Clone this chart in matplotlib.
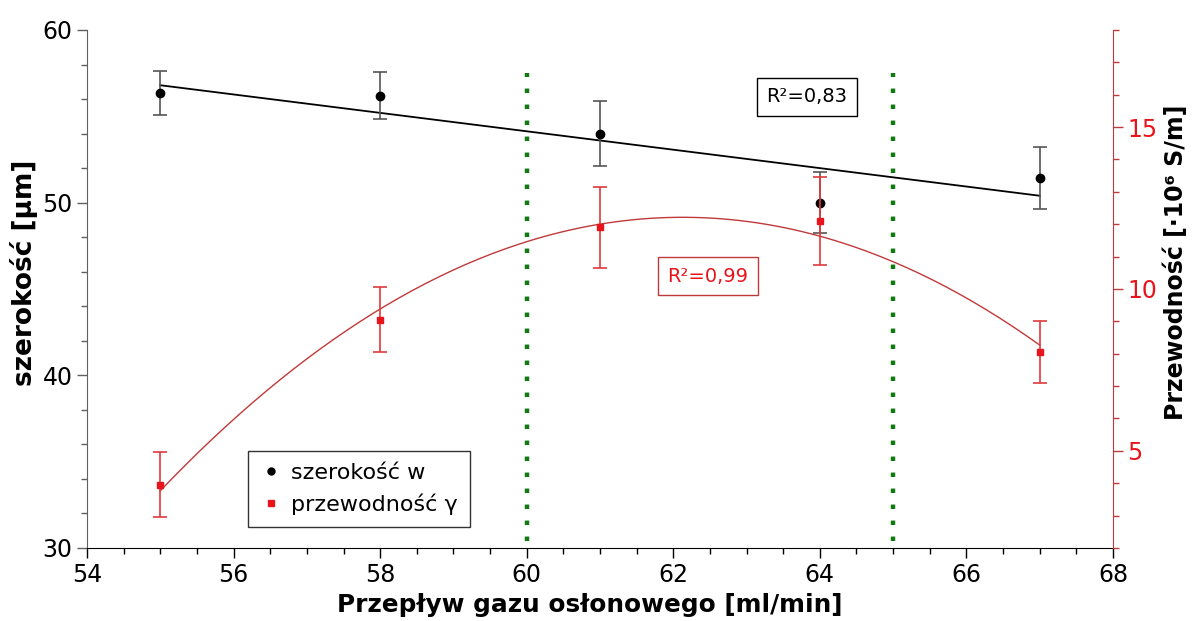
import numpy as np
import matplotlib.pyplot as plt
from matplotlib.lines import Line2D

# Measured data
flow = [55, 58, 61, 64, 67]
width = [56.35, 56.2, 54.0, 50.0, 51.45]
width_err = [1.25, 1.35, 1.9, 1.75, 1.8]
cond = [3.95, 9.05, 11.9, 12.1, 8.05]
cond_err = [1.0, 1.0, 1.25, 1.35, 0.95]
window = [60, 65]

r2_width = "R²=0,83"
r2_cond = "R²=0,99"

red = "#e8141c"
dark_red = "#c0393b"

plt.rcParams['font.family'] = ['DejaVu Sans']

fig = plt.figure(figsize=(11.92, 6.21), dpi=100)
ax = fig.add_axes([0.073, 0.1176, 0.8607, 0.8341])
ax2 = ax.twinx()

# Left axis: width
ax.errorbar(flow, width, yerr=width_err, fmt='o', color='black', ms=6,
            ecolor='#555555', elinewidth=1.2, capsize=5, capthick=1.2, zorder=5)
fit_w = np.polyfit(flow, width, 1)
xs = np.linspace(flow[0], flow[-1], 200)
ax.plot(xs, np.polyval(fit_w, xs), color='black', lw=1.3, zorder=4)

# Green vertical markers
for xv in window:
    ax.plot([xv, xv], [30.4, 57.5], color='#117a11', lw=3.2,
            linestyle=(0, (1, 2.6)), solid_capstyle='butt', zorder=3)

# Right axis: conductivity
ax2.errorbar(flow, cond, yerr=cond_err, fmt='s', color=red, ms=5,
             ecolor='#e03a3a', elinewidth=1.2, capsize=5, capthick=1.2, zorder=5)
fit_c = np.polyfit(flow, cond, 2)
ax2.plot(xs, np.polyval(fit_c, xs), color=dark_red, lw=1.0, zorder=4)

# Axis limits and ticks
ax.set_xlim(54, 68)
ax.set_ylim(30, 60)
ax2.set_ylim(2, 18)
ax.set_xticks(np.arange(54, 69, 2))
ax.set_xticks(np.arange(54, 68.1, 0.5), minor=True)
ax.set_yticks([30, 40, 50, 60])
ax.set_yticks(np.arange(30, 61, 2), minor=True)
ax2.set_yticks([5, 10, 15])
ax2.set_yticks(np.arange(2, 18.1, 1), minor=True)

ax.tick_params(axis='x', which='major', length=7, width=1, labelsize=17, color='black')
ax.tick_params(axis='x', which='minor', length=4, width=1, color='black')
ax.tick_params(axis='y', which='major', length=7, width=1, labelsize=17, color='#606060')
ax.tick_params(axis='y', which='minor', length=4, width=1, color='#606060')
ax2.tick_params(axis='y', which='major', length=7, width=1, labelsize=17,
                color=dark_red, labelcolor=red)
ax2.tick_params(axis='y', which='minor', length=4, width=1, color=dark_red)

for a in (ax, ax2):
    a.spines['top'].set_visible(False)
ax.spines['right'].set_visible(False)
ax2.spines['left'].set_visible(False)
ax2.spines['bottom'].set_visible(False)
ax.spines['left'].set_color('#606060')
ax2.spines['right'].set_color(dark_red)
ax.spines['bottom'].set_color('black')

ax.set_xlabel("Przepływ gazu osłonowego [ml/min]", fontsize=17.8, fontweight='bold')
ax.set_ylabel("szerokość [µm]", fontsize=19, fontweight='bold')
ax2.set_ylabel("Przewodność [·10⁶ S/m]", fontsize=17, fontweight='bold')
ax.xaxis.set_label_coords(0.49, -0.087)
ax.yaxis.set_label_coords(-0.048, 0.531)
ax2.yaxis.set_label_coords(1.049, 0.552)

# Fit quality boxes
ax.text(0.7018, 0.8707, r2_width, transform=ax.transAxes, ha='center', va='center',
        fontsize=14, color='black',
        bbox=dict(boxstyle='square,pad=0.5', fc='white', ec='black', lw=1))
ax.text(0.6053, 0.525, r2_cond, transform=ax.transAxes, ha='center', va='center',
        fontsize=14, color=red, zorder=6,
        bbox=dict(boxstyle='square,pad=0.5', fc='white', ec=dark_red, lw=1))

# Legend
handles = [Line2D([], [], marker='o', color='black', ls='none', ms=5),
           Line2D([], [], marker='s', color=red, ls='none', ms=5)]
leg = ax.legend(handles, ["szerokość w", "przewodność γ"], loc='lower left',
                bbox_to_anchor=(0.157, 0.0405), borderaxespad=0, fontsize=16,
                frameon=True, fancybox=False, edgecolor='black', handletextpad=0.4,
                handlelength=1.0, borderpad=0.55, labelspacing=0.45)
leg.get_frame().set_linewidth(1)
leg.set_zorder(10)

fig.savefig("out.png", dpi=100)
